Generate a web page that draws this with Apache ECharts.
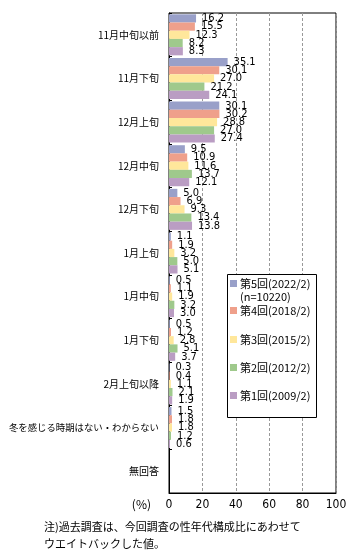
<!DOCTYPE html>
<html><head><meta charset="utf-8">
<script src="https://cdn.jsdelivr.net/npm/echarts@6/dist/echarts.min.js"></script>
<style>html,body{margin:0;padding:0;background:#fff}#c{width:355px;height:556px}</style>
</head><body><div id="c"></div>
<script>
const categories = ['11月中旬以前','11月下旬','12月上旬','12月中旬','12月下旬','1月上旬','1月中旬','1月下旬','2月上旬以降','冬を感じる時期はない・わからない','無回答'];
const seriesNames = ['第5回(2022/2)','第4回(2018/2)','第3回(2015/2)','第2回(2012/2)','第1回(2009/2)'];
const r5 = [16.2, 35.1, 30.1, 9.5, 5.0, 1.1, 0.5, 0.5, 0.3, 1.5, null];
const r4 = [15.5, 30.1, 30.2, 10.9, 6.9, 1.9, 1.1, 1.2, 0.4, 1.8, null];
const r3 = [12.3, 27.0, 28.8, 11.6, 9.3, 3.2, 1.9, 2.8, 1.1, 1.8, null];
const r2 = [8.2, 21.2, 27.0, 13.7, 13.4, 5.0, 3.2, 5.1, 2.1, 1.2, null];
const r1 = [8.3, 24.1, 27.4, 12.1, 13.8, 5.1, 3.0, 3.7, 1.9, 0.6, null];
const xTicks = [0, 20, 40, 60, 80, 100];
const colors = ['#99A0C9','#EFA08B','#FFE79B','#9FC98C','#BA9DC3'];
const seriesData = [r5, r4, r3, r2, r1];
const legendTops = [278, 305, 334, 362, 390];

const chart = echarts.init(document.getElementById('c'), null, {renderer:'canvas'});
const font = '"Noto Sans CJK JP", sans-serif';
const numFont = '"Liberation Sans Narrow", "DejaVu Sans Condensed", sans-serif';
const option = {
  animation: false,
  textStyle: {fontFamily: font},
  grid: {left: 169, right: 19, top: 13, bottom: 63, show: true, borderColor: '#000', borderWidth: 1,
    containLabel: false, outerBoundsMode: 'none'},
  xAxis: {
    type: 'value', min: xTicks[0], max: xTicks[xTicks.length-1], interval: 20,
    axisLine: {show: true, lineStyle: {color: '#000'}},
    axisTick: {show: false},
    axisLabel: {color: '#000', fontSize: 12, margin: 6, fontFamily: numFont},
    splitLine: {show: true, lineStyle: {color: '#999', type: [3, 2]}},
    name: '(%)', nameLocation: 'start', nameGap: 18,
    nameTextStyle: {color: '#000', fontSize: 12, verticalAlign: 'top', padding: [5, 0, 0, 0], fontFamily: font}
  },
  yAxis: {
    type: 'category', data: categories, inverse: true,
    axisLine: {show: true, lineStyle: {color: '#000'}},
    axisTick: {show: true, inside: true, length: 3, lineStyle: {color: '#000'}},
    axisLabel: {color: '#000', fontSize: 10, margin: 10, fontFamily: font,
      formatter: v => v.length > 10 ? '{s|' + v + '}' : v,
      rich: {s: {fontSize: 9.4, fontFamily: font, color: '#000'}}},
    splitLine: {show: false}
  },
  legend: seriesNames.map((n, i) => ({
    data: [n], left: 230, top: legendTops[i], orient: 'vertical', padding: 0, z: 10,
    itemWidth: 7, itemHeight: 7, itemGap: 0, icon: 'rect', selectedMode: false,
    textStyle: {color: '#000', fontSize: 11, fontFamily: font, padding: [0, 0, 0, -2]}
  })),
  graphic: [
    {type: 'rect', left: 227, top: 274, shape: {width: 89, height: 143}, style: {fill: '#fff', stroke: '#000', lineWidth: 1}, z: 3},
    {type: 'text', left: 240, top: 291, style: {text: '(n=10220)', fill: '#000', font: '11px ' + font}, z: 11}
  ],
  title: {
    text: '注)過去調査は、今回調査の性年代構成比にあわせて\nウエイトバックした値。',
    left: 44, top: 518, padding: 0,
    textStyle: {fontSize: 11, fontWeight: 'normal', color: '#000', lineHeight: 17, fontFamily: font}
  },
  series: seriesNames.map((n, i) => ({
    name: n, type: 'bar', data: seriesData[i],
    barGap: '0%', barCategoryGap: '6%',
    itemStyle: {color: colors[i]},
    label: {show: true, position: 'right', distance: 6, color: '#000', fontSize: 11, fontFamily: numFont,
      formatter: p => p.value == null ? '' : Number(p.value).toFixed(1)}
  }))
};
chart.setOption(option);
</script></body></html>
